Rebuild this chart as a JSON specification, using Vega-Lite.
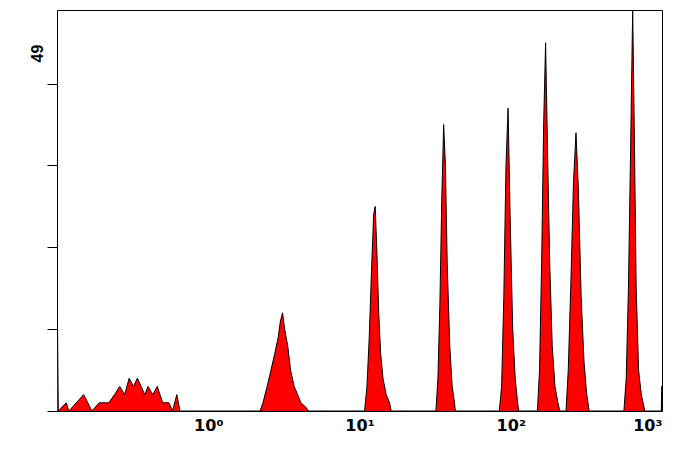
{
  "$schema": "https://vega.github.io/schema/vega-lite/v6.json",
  "width": 605,
  "height": 401,
  "autosize": {"type": "none"},
  "padding": {"left": 57, "top": 10, "right": 22, "bottom": 39},
  "background": "white",
  "config": {"view": {"stroke": "black", "strokeWidth": 1}, "font": "Liberation Sans"},
  "data": {
    "values": [
      {"x": 0.1, "n": 17}, {"x": 0.102, "n": 0}, {"x": 0.115, "n": 1}, {"x": 0.12, "n": 0},
      {"x": 0.15, "n": 2}, {"x": 0.16, "n": 1}, {"x": 0.17, "n": 0}, {"x": 0.19, "n": 1},
      {"x": 0.22, "n": 1}, {"x": 0.24, "n": 2}, {"x": 0.26, "n": 3}, {"x": 0.28, "n": 2},
      {"x": 0.3, "n": 4}, {"x": 0.32, "n": 3}, {"x": 0.34, "n": 4}, {"x": 0.36, "n": 3},
      {"x": 0.38, "n": 2}, {"x": 0.4, "n": 3}, {"x": 0.43, "n": 2}, {"x": 0.46, "n": 3},
      {"x": 0.5, "n": 1}, {"x": 0.55, "n": 1}, {"x": 0.58, "n": 0}, {"x": 0.62, "n": 2},
      {"x": 0.65, "n": 0},
      {"x": 2.2, "n": 0}, {"x": 2.3, "n": 1}, {"x": 2.45, "n": 3}, {"x": 2.6, "n": 5},
      {"x": 2.75, "n": 7}, {"x": 2.9, "n": 9}, {"x": 3.0, "n": 11}, {"x": 3.1, "n": 12},
      {"x": 3.2, "n": 10}, {"x": 3.35, "n": 8}, {"x": 3.5, "n": 5}, {"x": 3.7, "n": 3},
      {"x": 3.9, "n": 2}, {"x": 4.1, "n": 1}, {"x": 4.4, "n": 0.5}, {"x": 4.6, "n": 0},
      {"x": 10.8, "n": 0}, {"x": 11.2, "n": 3}, {"x": 11.6, "n": 9}, {"x": 12.0, "n": 17},
      {"x": 12.4, "n": 24}, {"x": 12.7, "n": 25}, {"x": 13.0, "n": 20}, {"x": 13.4, "n": 12},
      {"x": 13.8, "n": 7}, {"x": 14.3, "n": 4}, {"x": 15.0, "n": 2}, {"x": 15.8, "n": 1},
      {"x": 16.2, "n": 0},
      {"x": 32, "n": 0}, {"x": 33, "n": 4}, {"x": 34, "n": 13}, {"x": 35, "n": 26},
      {"x": 36, "n": 35}, {"x": 37, "n": 30}, {"x": 38, "n": 18}, {"x": 39.5, "n": 8},
      {"x": 41, "n": 3}, {"x": 42.5, "n": 1}, {"x": 43, "n": 0},
      {"x": 84, "n": 0}, {"x": 87, "n": 3}, {"x": 90, "n": 14}, {"x": 93, "n": 30},
      {"x": 96, "n": 37}, {"x": 99, "n": 24}, {"x": 103, "n": 10}, {"x": 107, "n": 4},
      {"x": 111, "n": 1}, {"x": 113, "n": 0},
      {"x": 150, "n": 0}, {"x": 155, "n": 5}, {"x": 160, "n": 18}, {"x": 165, "n": 35},
      {"x": 170, "n": 45}, {"x": 175, "n": 32}, {"x": 181, "n": 18}, {"x": 188, "n": 8},
      {"x": 196, "n": 3}, {"x": 205, "n": 1}, {"x": 211, "n": 0},
      {"x": 232, "n": 0}, {"x": 240, "n": 5}, {"x": 250, "n": 16}, {"x": 260, "n": 28},
      {"x": 270, "n": 34}, {"x": 280, "n": 27}, {"x": 292, "n": 14}, {"x": 305, "n": 6},
      {"x": 318, "n": 2}, {"x": 330, "n": 0},
      {"x": 560, "n": 0}, {"x": 580, "n": 4}, {"x": 600, "n": 15}, {"x": 620, "n": 32},
      {"x": 640, "n": 49}, {"x": 655, "n": 35}, {"x": 675, "n": 15}, {"x": 700, "n": 5},
      {"x": 730, "n": 2}, {"x": 770, "n": 0},
      {"x": 990, "n": 0}, {"x": 995, "n": 3}, {"x": 1000, "n": 3}
    ]
  },
  "mark": {"type": "area", "interpolate": "linear", "color": "#ff0000", "opacity": 1, "fillOpacity": 1, "line": {"color": "black", "strokeWidth": 1}, "clip": true},
  "encoding": {
    "x": {
      "field": "x", "type": "quantitative",
      "scale": {"type": "log", "domain": [0.1, 1000], "nice": false},
      "axis": {
        "values": [1, 10, 100, 1000], "title": null, "grid": false, "ticks": false,
        "domain": false, "labelFontSize": 16, "labelFontWeight": "bold", "labelColor": "black",
        "labelPadding": 6, "labelFont": "DejaVu Sans",
        "labelExpr": "datum.value == 1 ? '10⁰' : datum.value == 10 ? '10¹' : datum.value == 100 ? '10²' : '10³'"
      }
    },
    "y": {
      "field": "n", "type": "quantitative",
      "scale": {"domain": [0, 49], "nice": false},
      "axis": {
        "values": [0, 10, 20, 30, 40], "labels": false, "grid": false, "domain": false,
        "tickSize": 10, "tickColor": "black",
        "title": "49", "titleFontSize": 16, "titleFontWeight": "bold", "titleColor": "black",
        "titleAngle": -90, "titleAlign": "left", "titleBaseline": "bottom",
        "titleX": -12, "titleY": 52
      }
    }
  }
}
